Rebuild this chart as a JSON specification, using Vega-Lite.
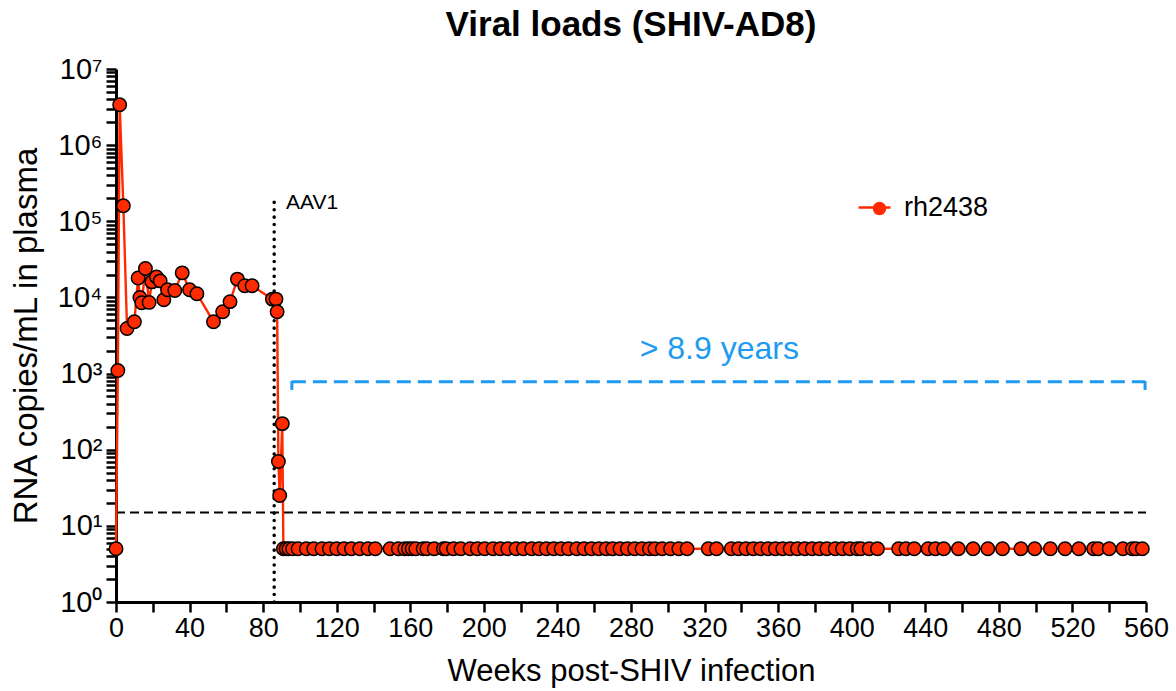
{
  "$schema": "https://vega.github.io/schema/vega-lite/v6.json",
  "width": 1030,
  "height": 533,
  "autosize": "none",
  "padding": {"left": 116, "top": 69, "right": 30, "bottom": 89},
  "background": "white",
  "title": {"text": "Viral loads (SHIV-AD8)", "fontSize": 35, "fontWeight": "bold", "font": "Liberation Sans", "color": "black", "anchor": "middle", "offset": 12},
  "config": {"view": {"stroke": null}, "font": "Liberation Sans"},
  "datasets": {
    "viral": [
      {"week": 0, "rna": 5}, {"week": 1, "rna": 1100}, {"week": 2, "rna": 3400000}, {"week": 4, "rna": 160000},
      {"week": 6, "rna": 3900}, {"week": 10, "rna": 4800}, {"week": 12, "rna": 18000}, {"week": 13, "rna": 10000},
      {"week": 14, "rna": 8500}, {"week": 16, "rna": 24000}, {"week": 18, "rna": 8600}, {"week": 19.5, "rna": 16000},
      {"week": 22, "rna": 18600}, {"week": 24, "rna": 16500}, {"week": 26, "rna": 9300}, {"week": 28, "rna": 12600},
      {"week": 32, "rna": 12300}, {"week": 36, "rna": 21000}, {"week": 40, "rna": 12600}, {"week": 44, "rna": 11200},
      {"week": 53, "rna": 4800}, {"week": 58, "rna": 6500}, {"week": 62, "rna": 8800}, {"week": 66, "rna": 17400},
      {"week": 70, "rna": 14200}, {"week": 74, "rna": 14200}, {"week": 85, "rna": 9500}, {"week": 87, "rna": 9500},
      {"week": 87.6, "rna": 6500}, {"week": 88.3, "rna": 70}, {"week": 89, "rna": 25}, {"week": 90.4, "rna": 220},
      {"week": 91, "rna": 5}, {"week": 92.5, "rna": 5}, {"week": 94, "rna": 5}, {"week": 96, "rna": 5},
      {"week": 99, "rna": 5}, {"week": 103.5, "rna": 5}, {"week": 107.5, "rna": 5}, {"week": 112, "rna": 5},
      {"week": 116, "rna": 5}, {"week": 120, "rna": 5}, {"week": 124, "rna": 5}, {"week": 128, "rna": 5},
      {"week": 132.5, "rna": 5}, {"week": 137, "rna": 5}, {"week": 141, "rna": 5}, {"week": 149, "rna": 5},
      {"week": 153.5, "rna": 5}, {"week": 157, "rna": 5}, {"week": 159, "rna": 5}, {"week": 161, "rna": 5},
      {"week": 163, "rna": 5}, {"week": 167, "rna": 5}, {"week": 169, "rna": 5}, {"week": 173, "rna": 5},
      {"week": 178, "rna": 5}, {"week": 179.5, "rna": 5}, {"week": 183.5, "rna": 5}, {"week": 187.5, "rna": 5},
      {"week": 192.5, "rna": 5}, {"week": 196.5, "rna": 5}, {"week": 200.5, "rna": 5}, {"week": 205, "rna": 5},
      {"week": 209, "rna": 5}, {"week": 213, "rna": 5}, {"week": 217.5, "rna": 5}, {"week": 221.5, "rna": 5},
      {"week": 226, "rna": 5}, {"week": 230, "rna": 5}, {"week": 234, "rna": 5}, {"week": 238, "rna": 5},
      {"week": 242, "rna": 5}, {"week": 246, "rna": 5}, {"week": 250.5, "rna": 5}, {"week": 254.5, "rna": 5},
      {"week": 258.5, "rna": 5}, {"week": 262.5, "rna": 5}, {"week": 266.5, "rna": 5}, {"week": 270, "rna": 5},
      {"week": 274, "rna": 5}, {"week": 278, "rna": 5}, {"week": 282, "rna": 5}, {"week": 286, "rna": 5},
      {"week": 290, "rna": 5}, {"week": 293, "rna": 5}, {"week": 297, "rna": 5}, {"week": 301.5, "rna": 5},
      {"week": 306, "rna": 5}, {"week": 310.5, "rna": 5}, {"week": 322, "rna": 5}, {"week": 326.5, "rna": 5},
      {"week": 334.5, "rna": 5}, {"week": 338.5, "rna": 5}, {"week": 342.5, "rna": 5}, {"week": 346.5, "rna": 5},
      {"week": 350.5, "rna": 5}, {"week": 354.5, "rna": 5}, {"week": 358.5, "rna": 5}, {"week": 362.5, "rna": 5},
      {"week": 366.5, "rna": 5}, {"week": 370.5, "rna": 5}, {"week": 374.5, "rna": 5}, {"week": 378.5, "rna": 5},
      {"week": 382.5, "rna": 5}, {"week": 386.5, "rna": 5}, {"week": 391, "rna": 5}, {"week": 395, "rna": 5},
      {"week": 399, "rna": 5}, {"week": 403, "rna": 5}, {"week": 405, "rna": 5}, {"week": 409.5, "rna": 5},
      {"week": 414, "rna": 5}, {"week": 425.5, "rna": 5}, {"week": 429.5, "rna": 5}, {"week": 434, "rna": 5},
      {"week": 441.5, "rna": 5}, {"week": 445.5, "rna": 5}, {"week": 450, "rna": 5}, {"week": 458, "rna": 5},
      {"week": 466, "rna": 5}, {"week": 474, "rna": 5}, {"week": 482, "rna": 5}, {"week": 492, "rna": 5},
      {"week": 499.5, "rna": 5}, {"week": 508, "rna": 5}, {"week": 516, "rna": 5}, {"week": 523.5, "rna": 5},
      {"week": 531.5, "rna": 5}, {"week": 534, "rna": 5}, {"week": 540, "rna": 5}, {"week": 547.5, "rna": 5},
      {"week": 552.5, "rna": 5}, {"week": 554.5, "rna": 5}, {"week": 558, "rna": 5}
    ],
    "lod": [{"week": 0, "weekEnd": 560, "rna": 15}],
    "aav1": [{"week": 86, "rna": 1, "rnaTop": 180000}],
    "aav1Label": [{"week": 92.4, "rna": 175000, "label": "AAV1"}],
    "bracket": [{"week": 95.6, "weekEnd": 559.5, "rna": 780}],
    "bracketEnds": [{"week": 95.6, "rna": 800, "rnaBottom": 610}, {"week": 559.5, "rna": 800, "rnaBottom": 610}],
    "note": [{"week": 328, "rna": 2100, "label": "> 8.9 years"}]
  },
  "encoding": {
    "x": {
      "field": "week", "type": "quantitative",
      "scale": {"domain": [0, 560], "nice": false, "zero": false},
      "axis": {
        "title": "Weeks post-SHIV infection",
        "values": [0, 20, 40, 60, 80, 100, 120, 140, 160, 180, 200, 220, 240, 260, 280, 300, 320, 340, 360, 380, 400, 420, 440, 460, 480, 500, 520, 540, 560],
        "labelExpr": "datum.value % 40 === 0 ? datum.label : ''",
        "tickSize": 10,
        "encode": {"ticks": {"update": {"y2": {"signal": "datum.value % 40 === 0 ? 10 : 6"}}}},
        "grid": false, "domainColor": "black", "domainWidth": 3, "tickColor": "black", "tickWidth": 2.5,
        "labelFontSize": 27, "labelColor": "black", "labelFont": "Liberation Sans", "labelPadding": 3, "labelOverlap": false, "labelFlush": false,
        "titleFontSize": 31, "titleFontWeight": "normal", "titleColor": "black", "titleFont": "Liberation Sans", "titlePadding": 15
      }
    },
    "y": {
      "field": "rna", "type": "quantitative",
      "scale": {"type": "log", "domain": [1, 10000000], "nice": false},
      "axis": {
        "title": "RNA copies/mL in plasma",
        "values": [1,2,3,4,5,6,7,8,9,10,20,30,40,50,60,70,80,90,100,200,300,400,500,600,700,800,900,1000,2000,3000,4000,5000,6000,7000,8000,9000,10000,20000,30000,40000,50000,60000,70000,80000,90000,100000,200000,300000,400000,500000,600000,700000,800000,900000,1000000,2000000,3000000,4000000,5000000,6000000,7000000,8000000,9000000,10000000],
        "labelExpr": "abs(log(datum.value)/LN10 - round(log(datum.value)/LN10)) < 0.001 ? '10' + ['⁰','¹','²','³','⁴','⁵','⁶','⁷'][round(log(datum.value)/LN10)] : ''",
        "tickSize": 10,
        "encode": {"ticks": {"update": {"x2": {"signal": "abs(log(datum.value)/LN10 - round(log(datum.value)/LN10)) < 0.001 ? -10 : -6"}}}},
        "grid": false, "domainColor": "black", "domainWidth": 3, "tickColor": "black", "tickWidth": 2.5,
        "labelFontSize": 29, "labelColor": "black", "labelFont": "Liberation Sans", "labelPadding": 4, "labelOverlap": false, "labelFlush": false,
        "titleFontSize": 33, "titleFontWeight": "normal", "titleColor": "black", "titleFont": "Liberation Sans", "titlePadding": 14
      }
    }
  },
  "layer": [
    {
      "data": {"name": "lod"},
      "mark": {"type": "rule", "strokeDash": [9, 5], "strokeWidth": 2, "color": "black"},
      "encoding": {"x2": {"field": "weekEnd"}}
    },
    {
      "data": {"name": "aav1"},
      "mark": {"type": "rule", "strokeDash": [0.1, 7.3], "strokeCap": "round", "strokeWidth": 3.5, "color": "black"},
      "encoding": {"y2": {"field": "rnaTop"}}
    },
    {
      "data": {"name": "aav1Label"},
      "mark": {"type": "text", "align": "left", "baseline": "middle", "fontSize": 21, "color": "black", "font": "Liberation Sans"},
      "encoding": {"text": {"field": "label"}}
    },
    {
      "data": {"name": "bracket"},
      "mark": {"type": "rule", "strokeDash": [14, 7], "strokeWidth": 3, "color": "#1E9BF0"},
      "encoding": {"x2": {"field": "weekEnd"}}
    },
    {
      "data": {"name": "bracketEnds"},
      "mark": {"type": "rule", "strokeWidth": 3, "color": "#1E9BF0"},
      "encoding": {"y2": {"field": "rnaBottom"}}
    },
    {
      "data": {"name": "note"},
      "mark": {"type": "text", "align": "center", "baseline": "middle", "fontSize": 32, "color": "#1E9BF0", "font": "Liberation Sans"},
      "encoding": {"text": {"field": "label"}}
    },
    {
      "data": {"name": "viral"},
      "mark": {"type": "line", "strokeWidth": 2.4, "clip": false},
      "encoding": {
        "color": {
          "datum": "rh2438",
          "scale": {"domain": ["rh2438"], "range": ["#FF2A00"]},
          "legend": {
            "title": null, "orient": "none", "legendX": 741, "legendY": 121, "padding": 0,
            "symbolType": "stroke", "symbolSize": 1024, "symbolStrokeWidth": 2.5,
            "labelFontSize": 27, "labelFont": "Liberation Sans", "labelColor": "black", "labelOffset": 12, "zindex": 1
          }
        }
      }
    },
    {
      "data": {"name": "viral"},
      "mark": {"type": "point", "filled": true, "size": 180, "stroke": "black", "strokeWidth": 1.5, "fill": "#FF2A00", "opacity": 1, "clip": false},
      "encoding": {
        "shape": {
          "datum": "rh2438",
          "scale": {"domain": ["rh2438", "_"], "range": ["circle", "circle"]},
          "legend": {
            "title": null, "orient": "none", "legendX": 750, "legendY": 126, "padding": 0, "values": ["rh2438"],
            "symbolFillColor": "#FF2A00", "symbolStrokeColor": "black", "symbolStrokeWidth": 1.5, "symbolSize": 180, "symbolOpacity": 1,
            "labelExpr": "''", "labelFontSize": 27, "zindex": 2
          }
        }
      }
    }
  ]
}
